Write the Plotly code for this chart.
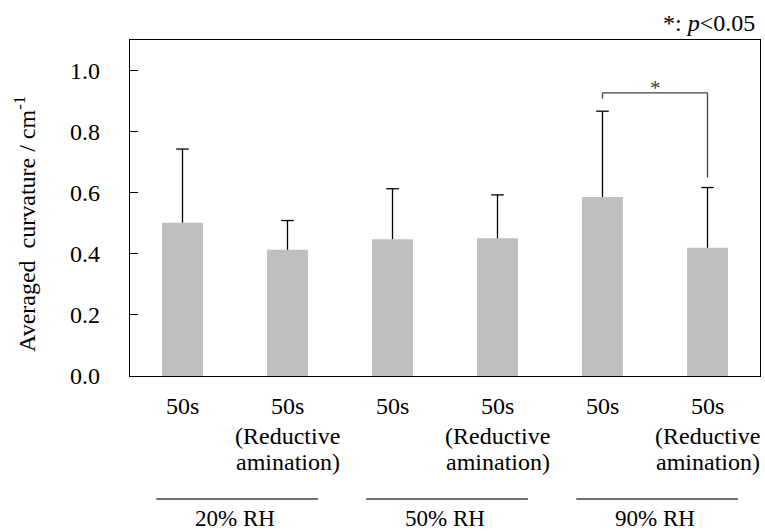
import plotly.graph_objects as go

# ---- data ----
bar_labels_line1 = ["50s", "50s", "50s", "50s", "50s", "50s"]
bar_labels_line2 = ["", "(Reductive", "", "(Reductive", "", "(Reductive"]
bar_labels_line3 = ["", "amination)", "", "amination)", "", "amination)"]
means = [0.502, 0.413, 0.448, 0.451, 0.586, 0.420]
sd_upper = [0.241, 0.096, 0.165, 0.142, 0.281, 0.197]
groups = ["20% RH", "50% RH", "90% RH"]
group_members = [(0, 1), (2, 3), (4, 5)]
y_ticks = [0.0, 0.2, 0.4, 0.6, 0.8, 1.0]
sig_pair = (4, 5)
sig_bracket_top = 0.927
sig_leg_bottoms = (0.908, 0.650)

FONT = "Liberation Serif"
FS = 24

x = list(range(len(means)))

fig = go.Figure()
fig.add_trace(go.Bar(
    x=x, y=means,
    marker=dict(color="#BFBFBF", line=dict(width=0)),
    width=0.39,
    showlegend=False,
))

# upper-only error bars (stem + cap, no cap at bar top)
stem_x, stem_y = [], []
for i, m, s in zip(x, means, sd_upper):
    stem_x += [i, i, None]
    stem_y += [m, m + s, None]
fig.add_trace(go.Scatter(x=stem_x, y=stem_y, mode="lines",
                         line=dict(color="black", width=1.3),
                         showlegend=False, hoverinfo="skip"))
fig.add_trace(go.Scatter(x=x, y=[m + s for m, s in zip(means, sd_upper)],
                         mode="markers",
                         marker=dict(symbol="line-ew", size=9,
                                     line=dict(color="black", width=1.3)),
                         showlegend=False, hoverinfo="skip"))

annotations = []
# x category labels (three lines)
for i in x:
    for txt, yy in ((bar_labels_line1[i], -0.089),
                    (bar_labels_line2[i], -0.179),
                    (bar_labels_line3[i], -0.257)):
        if txt:
            annotations.append(dict(x=i, y=yy, xref="x", yref="paper",
                                    text=txt, showarrow=False,
                                    font=dict(family=FONT, size=FS, color="black"),
                                    xanchor="center", yanchor="middle"))

shapes = []
# group lines and labels
for g, (a, b) in zip(groups, group_members):
    shapes.append(dict(type="line", xref="x", yref="paper",
                       x0=a - 0.25, x1=b + 0.29, y0=-0.366, y1=-0.366,
                       line=dict(color="#404040", width=1.3)))
    annotations.append(dict(x=(a + b) / 2, y=-0.424, xref="x", yref="paper",
                            text=g, showarrow=False,
                            font=dict(family=FONT, size=FS - 1, color="black"),
                            xanchor="center", yanchor="middle"))

# significance bracket
a, b = sig_pair
for xx, yb in ((a, sig_leg_bottoms[0]), (b, sig_leg_bottoms[1])):
    shapes.append(dict(type="line", xref="x", yref="y",
                       x0=xx, x1=xx, y0=yb, y1=sig_bracket_top,
                       line=dict(color="#404040", width=1.3)))
shapes.append(dict(type="line", xref="x", yref="y",
                   x0=a, x1=b, y0=sig_bracket_top, y1=sig_bracket_top,
                   line=dict(color="#404040", width=1.3)))
annotations.append(dict(x=(a + b) / 2, y=sig_bracket_top, xref="x", yref="y",
                        text="*", showarrow=False, yanchor="bottom",
                        yshift=-9,
                        font=dict(family=FONT, size=21, color="#404040")))

# p-value legend
annotations.append(dict(x=1.0, y=1.0, xref="paper", yref="paper",
                        text="*: <i>p</i>&lt;0.05", showarrow=False,
                        xanchor="right", yanchor="bottom", xshift=-3, yshift=2,
                        font=dict(family=FONT, size=FS, color="black")))

# y-axis title
annotations.append(dict(x=-0.167, y=0.452, xref="paper", yref="paper",
                        text="Averaged&#160; curvature / cm<sup>-1</sup>",
                        textangle=-90, showarrow=False,
                        xanchor="center", yanchor="middle",
                        font=dict(family=FONT, size=FS, color="black")))

fig.update_layout(
    width=765, height=532,
    margin=dict(l=130, r=5, t=40, b=156),
    paper_bgcolor="white", plot_bgcolor="white",
    bargap=0.61,
    shapes=shapes,
    annotations=annotations,
    font=dict(family=FONT, size=FS, color="black"),
    hovermode=False,
)
fig.update_xaxes(range=[-0.5, 5.5], showticklabels=False, ticks="",
                 showgrid=False, zeroline=False,
                 showline=True, linecolor="black", linewidth=1.3, mirror=True)
fig.update_yaxes(range=[0, 1.1], tickvals=y_ticks,
                 ticktext=[f"{v:.1f}" for v in y_ticks],
                 ticks="inside", ticklen=8, tickcolor="black", tickwidth=1.3,
                 ticklabelstandoff=24,
                 showgrid=False, zeroline=False,
                 showline=True, linecolor="black", linewidth=1.3, mirror=True,
                 tickfont=dict(family=FONT, size=24))

fig.write_html("out.html", config={"displayModeBar": False},
               post_script="document.body.style.margin='0';")
